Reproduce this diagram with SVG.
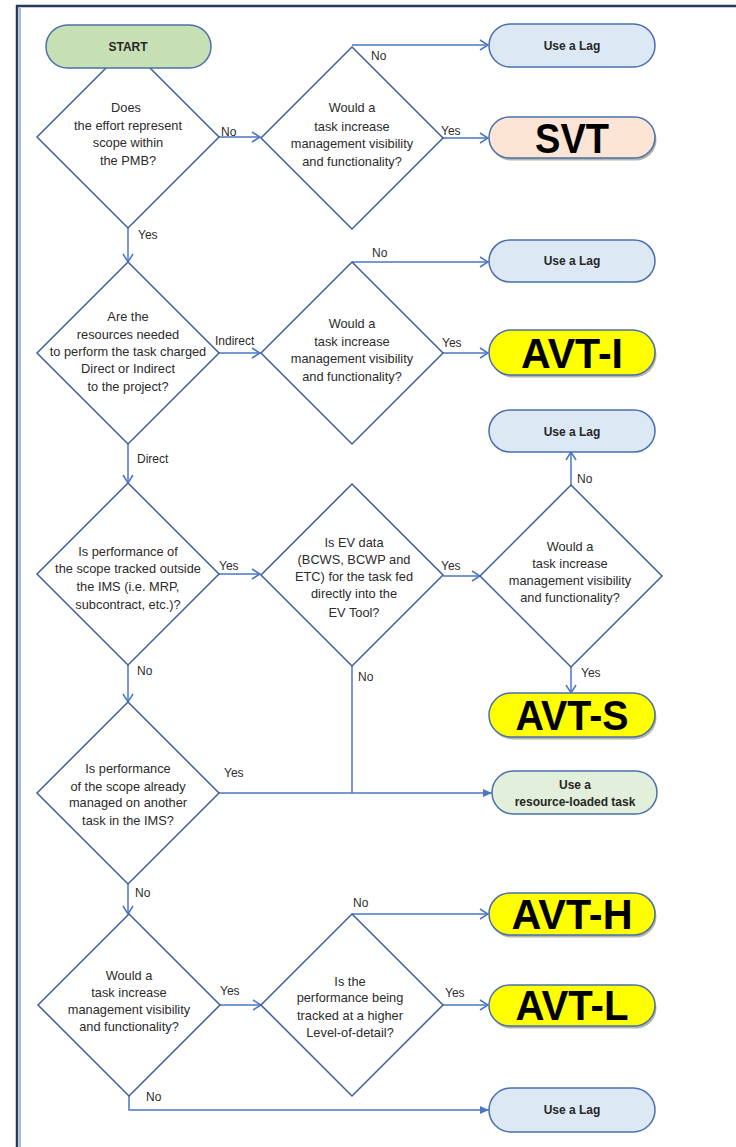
<svg xmlns="http://www.w3.org/2000/svg" width="736" height="1147" viewBox="0 0 736 1147">
<style>
.bg{fill:#ffffff}
.dia{fill:#ffffff;stroke:#3c5f9e;stroke-width:1.5}
.term{stroke:#4a6fae;stroke-width:1.5}
.lag{fill:#dde8f5}
.start{fill:#c6e0b4}
.svt{fill:#fce5d5}
.avt{fill:#ffff00}
.res{fill:#e2efda}
.shadow{fill:#7a7a5a;opacity:0.55}
.t{font-family:"Liberation Sans",Arial,sans-serif;font-size:12.8px;fill:#2b2b2b;text-anchor:middle}
.tb{font-family:"Liberation Sans",Arial,sans-serif;font-size:12px;font-weight:bold;fill:#262626;text-anchor:middle}
.big{font-family:"Liberation Sans",Arial,sans-serif;font-size:42px;font-weight:bold;fill:#000000;text-anchor:middle}
.lbl{font-family:"Liberation Sans",Arial,sans-serif;font-size:12px;fill:#2b2b2b}
.c{fill:none;stroke:#4a76c6;stroke-width:1.5}
</style>
<defs>
<marker id="open" markerWidth="10" markerHeight="12" refX="9" refY="6" orient="auto" markerUnits="userSpaceOnUse">
<path d="M1,1 L9,6 L1,11" fill="none" stroke="#4a76c6" stroke-width="1.5"/>
</marker>
<marker id="fill" markerWidth="10" markerHeight="10" refX="9" refY="5" orient="auto" markerUnits="userSpaceOnUse">
<path d="M0,1 L9,5 L0,9 Z" fill="#4a76c6"/>
</marker>
</defs>
<rect class="bg" x="0" y="0" width="736" height="1147"/>
<g id="frame">
<polyline points="17,1147 17,6 736,6" fill="none" stroke="#223a5e" stroke-width="2.5"/>
<line x1="20" y1="8" x2="20" y2="1147" stroke="#4a6fae" stroke-width="1"/>
</g>

<g id="connectors">
<path class="c" d="M219,137 H260" marker-end="url(#open)"/>
<path class="c" d="M352,45 H488" marker-end="url(#open)"/>
<path class="c" d="M443,138 H488" marker-end="url(#open)"/>
<path class="c" d="M128,228 V262" marker-end="url(#open)"/>
<path class="c" d="M219,353 H260" marker-end="url(#open)"/>
<path class="c" d="M352,262 H488" marker-end="url(#open)"/>
<path class="c" d="M443,353 H488" marker-end="url(#open)"/>
<path class="c" d="M128,444 V483" marker-end="url(#open)"/>
<path class="c" d="M219,574 H260" marker-end="url(#open)"/>
<path class="c" d="M443,576 H480" marker-end="url(#open)"/>
<path class="c" d="M571,485 V452" marker-end="url(#open)"/>
<path class="c" d="M571,667 V693" marker-end="url(#open)"/>
<path class="c" d="M352,666 V793"/>
<path class="c" d="M219,793 H492" marker-end="url(#fill)"/>
<path class="c" d="M128,665 V702" marker-end="url(#open)"/>
<path class="c" d="M128,884 V914" marker-end="url(#open)"/>
<path class="c" d="M220,1005 H261" marker-end="url(#open)"/>
<path class="c" d="M352,914 H488" marker-end="url(#open)"/>
<path class="c" d="M443,1005 H488" marker-end="url(#open)"/>
<path class="c" d="M129,1096 V1110 H489" marker-end="url(#fill)"/>
<text class="lbl" x="221" y="136">No</text>
<text class="lbl" x="371" y="60">No</text>
<text class="lbl" x="441" y="135">Yes</text>
<text class="lbl" x="138" y="239">Yes</text>
<text class="lbl" x="372" y="257">No</text>
<text class="lbl" x="215" y="345">Indirect</text>
<text class="lbl" x="442" y="347">Yes</text>
<text class="lbl" x="137" y="463">Direct</text>
<text class="lbl" x="577" y="483">No</text>
<text class="lbl" x="219" y="570">Yes</text>
<text class="lbl" x="441" y="570">Yes</text>
<text class="lbl" x="581" y="677">Yes</text>
<text class="lbl" x="137" y="675">No</text>
<text class="lbl" x="358" y="681">No</text>
<text class="lbl" x="224" y="777">Yes</text>
<text class="lbl" x="135" y="897">No</text>
<text class="lbl" x="353" y="907">No</text>
<text class="lbl" x="220" y="995">Yes</text>
<text class="lbl" x="445" y="997">Yes</text>
<text class="lbl" x="146" y="1101">No</text>
</g>

<g id="d1">
<polygon class="dia" points="128,46 219,137 128,228 37,137"/>
<text class="t"><tspan x="126" y="112">Does</tspan><tspan x="128" y="130">the effort represent</tspan><tspan x="128" y="147">scope within</tspan><tspan x="128" y="165">the PMB?</tspan></text>
</g>
<g id="start">
<rect class="term start" x="46" y="25" width="165" height="43" rx="21.5"/>
<text class="tb" x="128" y="51">START</text>
</g>
<g id="d2">
<polygon class="dia" points="352,47 443,138 352,229 261,138"/>
<text class="t"><tspan x="352" y="112">Would a</tspan><tspan x="352" y="131">task increase</tspan><tspan x="352" y="148">management visibility</tspan><tspan x="352" y="166">and functionality?</tspan></text>
</g>
<g id="lag1">
<rect class="term lag" x="489" y="24" width="166" height="43" rx="21.5"/>
<text class="tb" x="572" y="50">Use a Lag</text>
</g>
<g id="svt">
<rect class="shadow" x="490.5" y="119.5" width="166" height="41" rx="20.5"/>
<rect class="term svt" x="489" y="117" width="166" height="41" rx="20.5"/>
<text class="big" x="572" y="153" textLength="74" lengthAdjust="spacingAndGlyphs">SVT</text>
</g>
<g id="d3">
<polygon class="dia" points="128,262 219,353 128,444 37,353"/>
<text class="t"><tspan x="128" y="321">Are the</tspan><tspan x="128" y="339">resources needed</tspan><tspan x="128" y="356">to perform the task charged</tspan><tspan x="128" y="373">Direct or Indirect</tspan><tspan x="128" y="391">to the project?</tspan></text>
</g>
<g id="d4">
<polygon class="dia" points="352,262 443,353 352,444 261,353"/>
<text class="t"><tspan x="352" y="328">Would a</tspan><tspan x="352" y="346">task increase</tspan><tspan x="352" y="363">management visibility</tspan><tspan x="352" y="381">and functionality?</tspan></text>
</g>
<g id="lag2">
<rect class="term lag" x="489" y="240" width="166" height="42" rx="21"/>
<text class="tb" x="572" y="265">Use a Lag</text>
</g>
<g id="avti">
<rect class="shadow" x="490.5" y="332.5" width="166" height="45" rx="22.5"/>
<rect class="term avt" x="489" y="330" width="166" height="45" rx="22.5"/>
<text class="big" x="572" y="368" textLength="102" lengthAdjust="spacingAndGlyphs">AVT-I</text>
</g>
<g id="lag3">
<rect class="term lag" x="489" y="410" width="166" height="42" rx="21"/>
<text class="tb" x="572" y="436">Use a Lag</text>
</g>
<g id="d5">
<polygon class="dia" points="128,483 219,574 128,665 37,574"/>
<text class="t"><tspan x="128" y="556">Is performance of</tspan><tspan x="128" y="573">the scope tracked outside</tspan><tspan x="128" y="591">the IMS (i.e. MRP,</tspan><tspan x="128" y="609">subcontract, etc.)?</tspan></text>
</g>
<g id="d6">
<polygon class="dia" points="352,484 443,575 352,666 261,575"/>
<text class="t"><tspan x="354" y="547">Is EV data</tspan><tspan x="354" y="564">(BCWS, BCWP and</tspan><tspan x="354" y="581">ETC) for the task fed</tspan><tspan x="354" y="598">directly into the</tspan><tspan x="354" y="617">EV Tool?</tspan></text>
</g>
<g id="d7">
<polygon class="dia" points="571,485 662,576 571,667 480,576"/>
<text class="t"><tspan x="570" y="551">Would a</tspan><tspan x="570" y="568">task increase</tspan><tspan x="570" y="585">management visibility</tspan><tspan x="570" y="602">and functionality?</tspan></text>
</g>
<g id="avts">
<rect class="shadow" x="490.5" y="695.5" width="166" height="44" rx="22"/>
<rect class="term avt" x="489" y="693" width="166" height="44" rx="22"/>
<text class="big" x="572" y="730" textLength="113" lengthAdjust="spacingAndGlyphs">AVT-S</text>
</g>
<g id="d8">
<polygon class="dia" points="128,702 219,793 128,884 37,793"/>
<text class="t"><tspan x="128" y="773">Is performance</tspan><tspan x="128" y="791">of the scope already</tspan><tspan x="128" y="807">managed on another</tspan><tspan x="128" y="825">task in the IMS?</tspan></text>
</g>
<g id="res">
<rect class="term res" x="492" y="771" width="165" height="43" rx="21.5"/>
<text class="tb" x="575" y="789">Use a</text>
<text class="tb" x="575" y="806">resource-loaded task</text>
</g>
<g id="d9">
<polygon class="dia" points="129,914 220,1005 129,1096 38,1005"/>
<text class="t"><tspan x="129" y="980">Would a</tspan><tspan x="129" y="997">task increase</tspan><tspan x="129" y="1014">management visibility</tspan><tspan x="129" y="1031">and functionality?</tspan></text>
</g>
<g id="d10">
<polygon class="dia" points="352,914 443,1005 352,1096 261,1005"/>
<text class="t"><tspan x="350" y="986">Is the</tspan><tspan x="350" y="1002">performance being</tspan><tspan x="350" y="1020">tracked at a higher</tspan><tspan x="350" y="1037">Level-of-detail?</tspan></text>
</g>
<g id="avth">
<rect class="shadow" x="490.5" y="895.5" width="166" height="42" rx="21"/>
<rect class="term avt" x="489" y="893" width="166" height="42" rx="21"/>
<text class="big" x="572" y="929" textLength="121" lengthAdjust="spacingAndGlyphs">AVT-H</text>
</g>
<g id="avtl">
<rect class="shadow" x="490.5" y="987.5" width="166" height="41" rx="20.5"/>
<rect class="term avt" x="489" y="985" width="166" height="41" rx="20.5"/>
<text class="big" x="572" y="1020" textLength="113" lengthAdjust="spacingAndGlyphs">AVT-L</text>
</g>
<g id="lag4">
<rect class="term lag" x="489" y="1088" width="166" height="44" rx="22"/>
<text class="tb" x="572" y="1114">Use a Lag</text>
</g>
</svg>
